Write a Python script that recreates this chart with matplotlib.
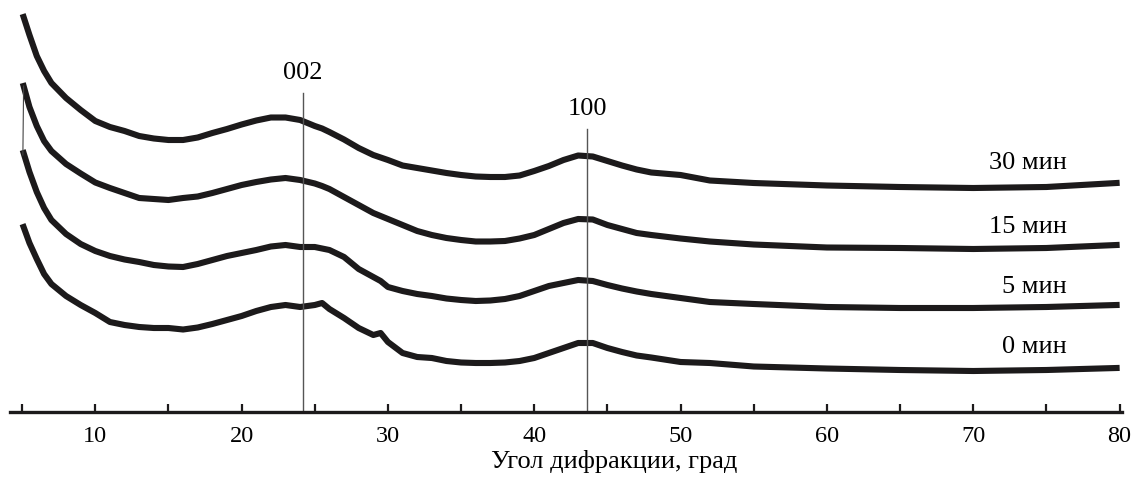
import matplotlib
matplotlib.use("Agg")
import matplotlib.pyplot as plt
from matplotlib.ticker import MultipleLocator

plt.rcParams['font.family'] = ['Liberation Serif', 'DejaVu Serif']

# угол 2θ, град (общая сетка для всех кривых)
angle = [5.1, 5.5, 6, 6.5, 7, 8, 9, 10, 11, 12, 13, 14, 15, 16, 17, 18, 19, 20,
         21, 22, 23, 24, 25, 25.5, 26, 27, 28, 29, 29.5, 30, 31, 32, 33, 34, 35,
         36, 37, 38, 39, 40, 41, 42, 43, 44, 45, 46, 47, 48, 50, 52, 55, 60, 65,
         70, 75, 79.8]

# интенсивность, отн. ед. (со смещением по вертикали)
i_30 = [395, 377, 356, 341, 329, 314, 302, 291, 285, 281, 276, 273.5, 272, 272,
        274.5, 279, 283, 287.5, 291.5, 294.5, 294.5, 292, 286, 283.5, 280, 272.5,
        264, 257, 254.5, 252, 246.5, 244, 241.5, 239, 237, 235.5, 235, 235, 236.5,
        241, 246, 252, 256.5, 255.5, 251, 246.5, 242.5, 239.5, 237, 231.5, 229,
        226.5, 225, 224, 225, 229]
i_15 = [326, 305, 286, 271, 261, 248, 238.5, 229.5, 224, 219, 214, 213, 212, 214,
        215.5, 219, 223, 227, 230, 232.5, 234, 232, 228.5, 226, 223, 215, 207,
        199, 196, 193, 187, 181, 177, 174, 172, 170.5, 170.5, 171, 173.5, 177,
        183, 189, 193, 192.5, 187, 183, 179, 177, 173.5, 170.5, 167.5, 164.5, 164,
        163, 164, 167]
i_5 = [259, 240, 220, 204, 192, 178, 168, 161, 156, 152.5, 150, 147, 145.5, 145,
       148, 152, 156, 159, 162, 165.5, 167, 165, 165, 163.5, 162, 155, 143, 135,
       131, 125, 121, 118, 116, 113.5, 112, 111, 111.5, 113, 116, 121, 126, 129,
       132, 131, 127, 123.5, 120.5, 118, 114, 110, 108, 105, 104, 104, 105, 107]
i_0 = [185, 169, 153, 138, 128, 116, 107, 99, 90, 87, 85, 84, 84, 82.5, 84.5, 88,
       92, 96, 101, 105, 107, 105, 107, 109, 103, 94, 84, 77, 79, 70, 59, 55, 54,
       51, 49.5, 49, 49, 49.5, 51, 54, 59, 64, 69, 69, 64, 60, 56.5, 54.5, 50, 49,
       45.5, 43.5, 42, 41, 42, 44]

# первая точка кривой 15 мин (тонкий вертикальный отрезок слева)
start_15 = (5.05, 257)

series = [i_30, i_15, i_5, i_0]
labels = ['30 мин', '15 мин', '5 мин', '0 мин']
label_y = [249, 185, 125, 65]

peak_pos = [24.2, 43.6]
peak_names = ['002', '100']
peak_top = [319, 283]

fig = plt.figure(figsize=(11.33, 4.79), dpi=100)
ax = fig.add_axes([10 / 1133, 1 - 412 / 479, 1112 / 1133, 412 / 479])

col = '#1c1a1b'
for y in series:
    ax.plot(angle, y, color=col, lw=4.4, solid_joinstyle='round')
ax.plot([start_15[0], angle[0]], [start_15[1], i_15[0]], color='#444444', lw=0.8)

for txt, yl in zip(labels, label_y):
    ax.text(76.4, yl, txt, ha='right', va='center', fontsize=19)

for xp, name, top in zip(peak_pos, peak_names, peak_top):
    ax.plot([xp, xp], [0, top], color='#555555', lw=1.0)
    ax.text(xp, top + 20, name, ha='center', va='center', fontsize=19)

ax.set_xlim(4.17, 80.17)
ax.set_ylim(0, 412)
for s in ['left', 'right', 'top']:
    ax.spines[s].set_visible(False)
ax.spines['bottom'].set_linewidth(2.4)
ax.spines['bottom'].set_color('#1c1a1b')
ax.set_yticks([])
ax.xaxis.set_major_locator(MultipleLocator(10))
ax.xaxis.set_minor_locator(MultipleLocator(5))
ax.tick_params(axis='x', which='both', direction='in', length=6, width=1.6,
               color='#1c1a1b')
ax.tick_params(axis='x', which='major', labelsize=17.5, pad=10)
ax.set_xticks([10, 20, 30, 40, 50, 60, 70, 80])
ax.set_xlabel('Угол дифракции, град', fontsize=19)
ax.xaxis.set_label_coords((614 - 10) / 1112, -38 / 412)

fig.savefig('out.png', dpi=100)
